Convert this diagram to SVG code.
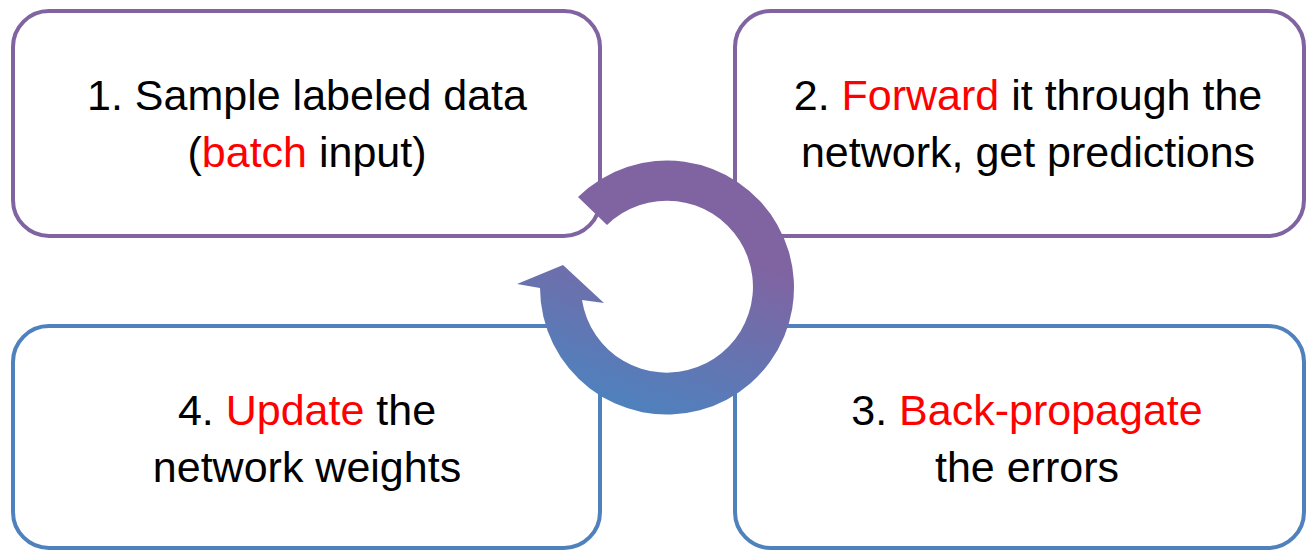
<svg xmlns="http://www.w3.org/2000/svg" width="1307" height="550" viewBox="0 0 1307 550">
<style>
.box{fill:#ffffff;stroke-width:4}
.p{stroke:#8064A2}
.b{stroke:#4F81BD}
text{font-family:"Liberation Sans",Arial,sans-serif;font-size:43px;fill:#000000;text-anchor:middle}
.r{fill:#FF0000}
</style>
<defs>
<linearGradient id="g" gradientUnits="userSpaceOnUse" x1="695" y1="245" x2="640" y2="410">
<stop offset="0" stop-color="#8064A2"/>
<stop offset="1" stop-color="#4F81BD"/>
</linearGradient>
</defs>
<g id="node1">
<rect class="box p" x="13" y="11" width="587" height="225" rx="36"/>
<text x="307" y="110">1. Sample labeled data</text>
<text x="307" y="167">(<tspan class="r">batch</tspan> input)</text>
</g>
<g id="node2">
<rect class="box p" x="735" y="11" width="569" height="225" rx="36"/>
<text x="1028" y="110">2. <tspan class="r">Forward</tspan> it through the</text>
<text x="1028" y="167">network, get predictions</text>
</g>
<g id="node3">
<rect class="box b" x="735" y="326" width="569" height="222" rx="36"/>
<text x="1027" y="425">3. <tspan class="r">Back-propagate</tspan></text>
<text x="1027" y="482">the errors</text>
</g>
<g id="node4">
<rect class="box b" x="13" y="326" width="587" height="222" rx="36"/>
<text x="307" y="425">4. <tspan class="r">Update</tspan> the</text>
<text x="307" y="482">network weights</text>
</g>
<g id="connectors">
<path d="M 578 197 A 127 127 0 1 1 540 288 L 517 284 L 563 265 L 604 303 L 582 300 A 86 86 0 1 0 607 225 Z" fill="url(#g)"/>
</g>
</svg>
